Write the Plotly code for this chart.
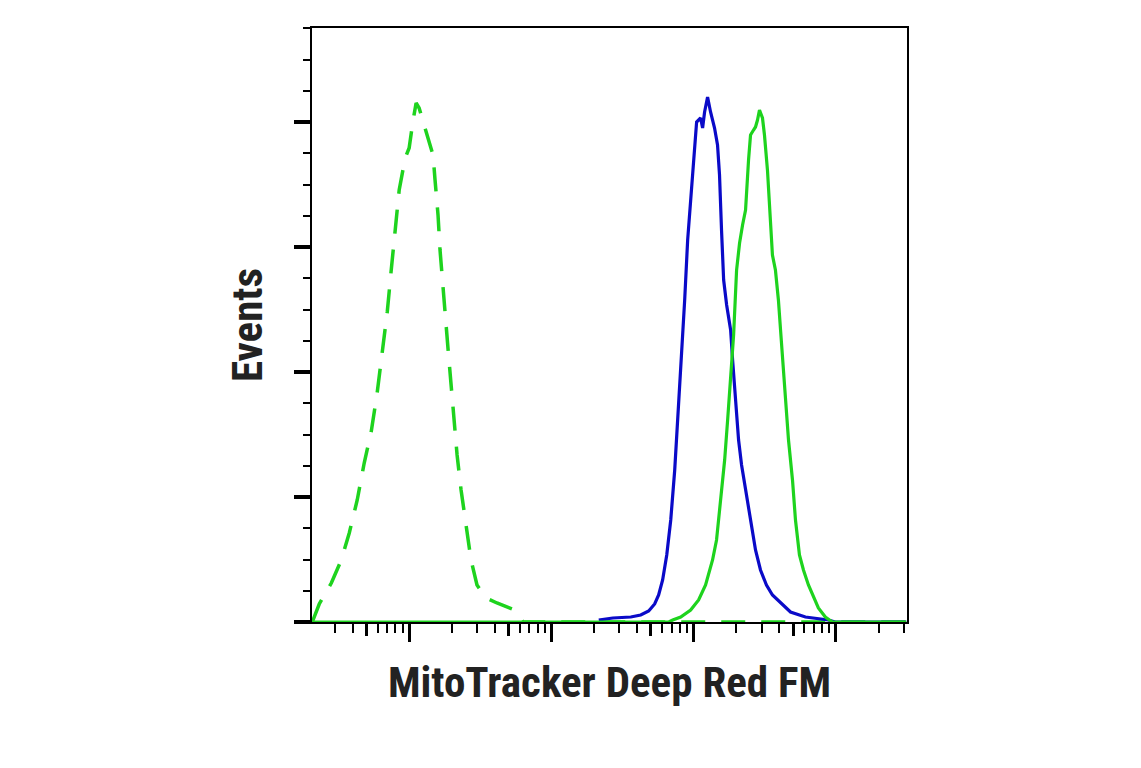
import numpy as np
import plotly.graph_objects as go

# x: log10 fluorescence, y: events
dash_x = [1.319,1.368,1.453,1.523,1.579,1.635,1.684,1.733,1.775,1.811,1.846,1.874,1.902,1.930,1.972,2.000,2.028,2.049,2.070,2.098,2.140,2.168,2.182,2.203,2.217,2.239,2.253,2.274,2.295,2.316,2.337,2.365,2.393,2.435,2.477,2.540,2.617,2.744,2.80,5.50]
dash_y = [0,7.2,15.6,24.8,35.6,48.8,63.6,76.0,91.6,108.8,124.0,140.8,157.6,172.8,185.6,189.6,200.8,207.6,205.6,200.0,192.8,186.8,176.8,162.8,148.8,134.8,122.8,108.8,94.8,80.8,66.8,52.8,40.8,24.8,14.8,9.6,7.6,4.8,0,0]

blue_x = [3.333,3.432,3.558,3.628,3.684,3.726,3.754,3.782,3.811,3.839,3.867,3.888,3.909,3.937,3.958,3.979,3.993,4.007,4.021,4.049,4.063,4.077,4.098,4.119,4.147,4.168,4.182,4.196,4.211,4.232,4.260,4.274,4.295,4.316,4.337,4.365,4.400,4.435,4.470,4.512,4.554,4.611,4.681,4.786,4.947,4.996,5.495]
blue_y = [0.8,1.6,2.0,2.8,4.4,7.2,10.8,16.8,26.8,40.8,60.8,80.8,104.8,128.8,152.8,168.8,180.8,188.8,200,201.6,197.6,204,210,204,197.6,190.8,178.8,156.8,136.8,126.8,116.8,104.8,88.8,72.8,62.8,52.8,40.8,28.8,20.8,14.8,10.8,7.6,4.0,2.0,0.8,0,0]

green_x = [1.319,3.825,3.853,3.909,3.979,4.035,4.084,4.133,4.161,4.189,4.218,4.239,4.260,4.281,4.302,4.323,4.344,4.365,4.386,4.400,4.421,4.435,4.449,4.463,4.484,4.498,4.519,4.540,4.554,4.575,4.596,4.611,4.632,4.653,4.667,4.695,4.716,4.744,4.772,4.807,4.835,4.877,4.926,4.975,5.495]
green_y = [0,0,0.8,2.0,4.8,8.8,14.8,24.8,32.8,48.8,64.8,80.8,96.8,114.8,140.8,151.6,158.8,164.8,184.8,194.8,196.8,198,200.8,204.8,201.6,194.8,180.8,160.8,146.8,140.8,128.8,116.8,98.8,84.8,72.8,56.8,40.8,26.8,20.8,14.8,10.8,5.6,2.0,0,0]

x_title = "MitoTracker Deep Red FM"
y_title = "Events"

GREEN = "#1ed31e"
BLUE = "#0a0ac8"
FONT = "Liberation Sans Narrow, Roboto Condensed, Arial Narrow"

fig = go.Figure()
fig.add_trace(go.Scatter(x=10**np.array(dash_x), y=dash_y, mode="lines",
                         line=dict(color=GREEN, width=3.5, dash="24px,16px"), showlegend=False))
fig.add_trace(go.Scatter(x=10**np.array(blue_x), y=blue_y, mode="lines",
                         line=dict(color=BLUE, width=3.2), showlegend=False))
fig.add_trace(go.Scatter(x=10**np.array(green_x), y=green_y, mode="lines",
                         line=dict(color=GREEN, width=3.2), showlegend=False))

xr = [1.317, 5.50]
majors = [10**k for k in range(1, 7)]
minors = [m*10**k for k in range(1, 6) for m in (2, 3, 4, 6, 7, 8, 9)]
mids = [5*10**k for k in range(1, 6)]

fig.update_layout(
    width=1141, height=768, plot_bgcolor="white", paper_bgcolor="white",
    margin=dict(l=304, r=242, t=20, b=154, autoexpand=False),
    xaxis=dict(type="log", range=xr, showgrid=False, zeroline=False, automargin=False,
               showline=True, linecolor="black", linewidth=1.5, mirror=True,
               tickmode="array", tickvals=majors, showticklabels=False,
               ticks="outside", ticklen=18, tickwidth=3, tickcolor="black",
               minor=dict(tickmode="array", tickvals=minors, ticks="outside",
                          ticklen=9, tickwidth=2, tickcolor="black"),
               title=dict(text="<b>"+x_title+"</b>", standoff=26,
                          font=dict(family=FONT, size=43, color="#222"))),
    xaxis2=dict(type="log", range=xr, overlaying="x", showgrid=False, zeroline=False,
                tickmode="array", tickvals=mids, showticklabels=False, automargin=False,
                ticks="outside", ticklen=13, tickwidth=3, tickcolor="black", anchor="y"),
    yaxis=dict(range=[0, 237.6], showgrid=False, zeroline=False, automargin=False,
               showline=True, linecolor="black", linewidth=1.5, mirror=True,
               tickmode="array", tickvals=[0, 50, 100, 150, 200], showticklabels=False,
               ticks="outside", ticklen=16, tickwidth=4, tickcolor="black",
               minor=dict(tickmode="array", tickvals=[12.5*i for i in range(20) if i % 4], ticks="outside",
                          ticklen=7, tickwidth=2, tickcolor="black"),
               title=dict(text="<b>"+y_title+"</b>", standoff=18,
                          font=dict(family=FONT, size=43, color="#222"))),
)
fig.add_trace(go.Scatter(x=[10**3], y=[None], xaxis="x2", showlegend=False, hoverinfo="skip"))
fig.write_html("out.html")
